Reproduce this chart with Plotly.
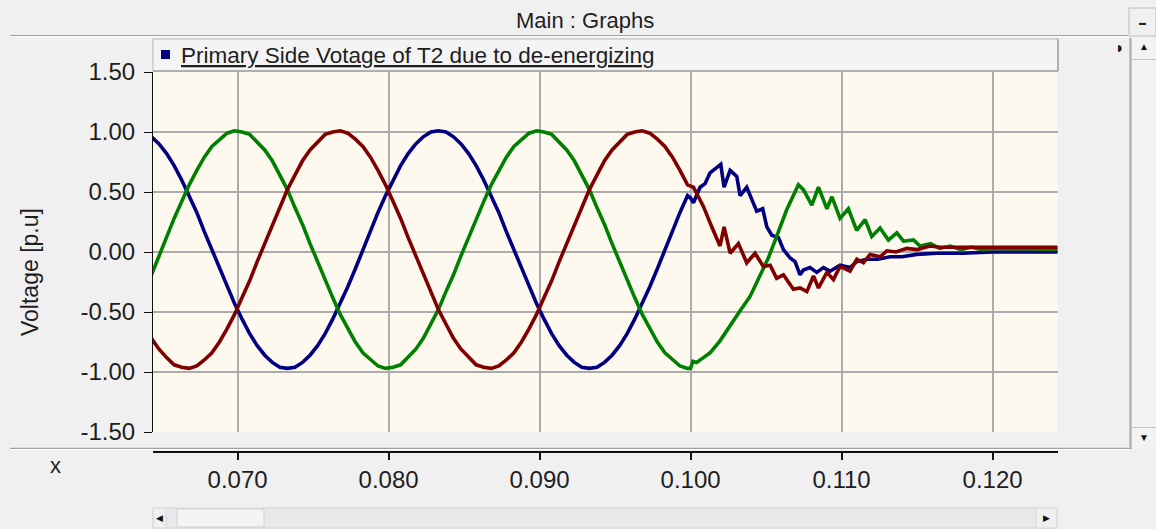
import plotly.graph_objects as go

# ---------------- data ----------------
t_steady = [
    0.0643, 0.0648, 0.0653, 0.0658, 0.0663, 0.0668, 0.0673, 0.0678, 0.0683, 0.0688,
    0.0693, 0.0698, 0.0703, 0.0708, 0.0713, 0.0718, 0.0723, 0.0728, 0.0733, 0.0738,
    0.0743, 0.0748, 0.0753, 0.0758, 0.0763, 0.0768, 0.0773, 0.0778, 0.0783, 0.0788,
    0.0793, 0.0798, 0.0803, 0.0808, 0.0813, 0.0818, 0.0823, 0.0828, 0.0833, 0.0838,
    0.0843, 0.0848, 0.0853, 0.0858, 0.0863, 0.0868, 0.0873, 0.0878, 0.0883, 0.0888,
    0.0893, 0.0898, 0.0903, 0.0908, 0.0913, 0.0918, 0.0923, 0.0928, 0.0933, 0.0938,
    0.0943, 0.0948, 0.0953, 0.0958, 0.0963, 0.0968, 0.0973, 0.0978, 0.0983, 0.0988,
    0.0993, 0.0998,
]

blue_steady = [
    0.96, 0.90, 0.82, 0.72, 0.60, 0.47, 0.33, 0.17, 0.02, -0.14,
    -0.29, -0.43, -0.56, -0.68, -0.78, -0.86, -0.92, -0.96, -0.97, -0.96,
    -0.92, -0.86, -0.78, -0.68, -0.56, -0.43, -0.29, -0.14, 0.02, 0.17,
    0.33, 0.47, 0.60, 0.72, 0.82, 0.90, 0.96, 1.00, 1.01, 1.00,
    0.96, 0.90, 0.82, 0.72, 0.60, 0.47, 0.33, 0.17, 0.02, -0.14,
    -0.29, -0.43, -0.56, -0.68, -0.78, -0.86, -0.92, -0.96, -0.97, -0.96,
    -0.92, -0.86, -0.78, -0.68, -0.56, -0.43, -0.29, -0.14, 0.02, 0.17,
    0.33, 0.47,
]
green_steady = [
    -0.19, -0.03, 0.12, 0.28, 0.42, 0.56, 0.68, 0.79, 0.88, 0.94,
    0.99, 1.01, 1.00, 0.98, 0.92, 0.85, 0.76, 0.64, 0.52, 0.37,
    0.23, 0.07, -0.08, -0.24, -0.38, -0.52, -0.64, -0.75, -0.84, -0.90,
    -0.95, -0.97, -0.96, -0.94, -0.88, -0.81, -0.72, -0.60, -0.48, -0.33,
    -0.19, -0.03, 0.12, 0.28, 0.42, 0.56, 0.68, 0.79, 0.88, 0.94,
    0.99, 1.01, 1.00, 0.98, 0.92, 0.85, 0.76, 0.64, 0.52, 0.37,
    0.23, 0.07, -0.08, -0.24, -0.38, -0.52, -0.64, -0.75, -0.84, -0.90,
    -0.95, -0.97,
]
red_steady = [
    -0.72, -0.81, -0.88, -0.94, -0.96, -0.97, -0.95, -0.90, -0.84, -0.75,
    -0.64, -0.52, -0.38, -0.24, -0.08, 0.07, 0.23, 0.37, 0.52, 0.64,
    0.76, 0.85, 0.92, 0.98, 1.00, 1.01, 0.99, 0.94, 0.88, 0.79,
    0.68, 0.56, 0.42, 0.28, 0.12, -0.03, -0.19, -0.33, -0.48, -0.60,
    -0.72, -0.81, -0.88, -0.94, -0.96, -0.97, -0.95, -0.90, -0.84, -0.75,
    -0.64, -0.52, -0.38, -0.24, -0.08, 0.07, 0.23, 0.37, 0.52, 0.64,
    0.76, 0.85, 0.92, 0.98, 1.00, 1.01, 0.99, 0.94, 0.88, 0.79,
    0.68, 0.56,
]

# transient after de-energizing (t >= 0.100 s)
blue_t = [0.10000, 0.10019, 0.10063, 0.10096, 0.10129, 0.10200, 0.10222, 0.10262,
          0.10306, 0.10328, 0.10372, 0.10438, 0.10478, 0.10505, 0.10538, 0.10582,
          0.10615, 0.10659, 0.10692, 0.10725, 0.10747, 0.10791, 0.10836, 0.10880,
          0.10924, 0.10990, 0.11056, 0.11101, 0.11167, 0.11240, 0.11321, 0.11400,
          0.11498, 0.11630, 0.11800, 0.12000, 0.12460]
blue_v = [0.45, 0.41, 0.54, 0.57, 0.66, 0.73, 0.54, 0.68,
          0.63, 0.47, 0.54, 0.34, 0.36, 0.21, 0.14, 0.12,
          0.02, -0.05, -0.08, -0.19, -0.15, -0.13, -0.17, -0.13,
          -0.16, -0.11, -0.13, -0.08, -0.06, -0.06, -0.04, -0.04,
          -0.02, -0.01, -0.01, 0.00, 0.00]

red_t = [0.10019, 0.10085, 0.10140, 0.10195, 0.10222, 0.10262, 0.10317, 0.10372,
         0.10427, 0.10482, 0.10527, 0.10570, 0.10615, 0.10681, 0.10725, 0.10770,
         0.10814, 0.10847, 0.10903, 0.10946, 0.10990, 0.11056, 0.11101, 0.11145,
         0.11189, 0.11255, 0.11300, 0.11360, 0.11432, 0.11500, 0.11586, 0.11650,
         0.11800, 0.12000, 0.12460]
red_v = [0.54, 0.38, 0.21, 0.05, 0.21, -0.01, 0.07, -0.09,
         -0.01, -0.12, -0.11, -0.22, -0.19, -0.31, -0.30, -0.33,
         -0.20, -0.30, -0.17, -0.23, -0.12, -0.16, -0.06, -0.09,
         -0.02, -0.04, 0.01, 0.00, 0.03, 0.02, 0.05, 0.04,
         0.04, 0.04, 0.04]

green_t = [0.10000, 0.10015, 0.10040, 0.10085, 0.10129, 0.10195, 0.10262, 0.10328,
           0.10394, 0.10460, 0.10515, 0.10570, 0.10636, 0.10714, 0.10747, 0.10803,
           0.10847, 0.10903, 0.10936, 0.10990, 0.11045, 0.11100, 0.11156, 0.11200,
           0.11255, 0.11310, 0.11366, 0.11410, 0.11476, 0.11520, 0.11590, 0.11650,
           0.11720, 0.11790, 0.11860, 0.11930, 0.12000, 0.12460]
green_v = [-0.97, -0.91, -0.92, -0.88, -0.84, -0.74, -0.62, -0.49,
           -0.37, -0.20, -0.05, 0.13, 0.35, 0.56, 0.52, 0.39,
           0.54, 0.36, 0.46, 0.28, 0.36, 0.18, 0.27, 0.13,
           0.20, 0.10, 0.16, 0.09, 0.10, 0.05, 0.07, 0.03,
           0.05, 0.02, 0.04, 0.02, 0.03, 0.02]

x_ticks = [0.07, 0.08, 0.09, 0.10, 0.11, 0.12]
x_tick_labels = ["0.070", "0.080", "0.090", "0.100", "0.110", "0.120"]
y_ticks = [-1.5, -1.0, -0.5, 0.0, 0.5, 1.0, 1.5]
y_tick_labels = ["-1.50", "-1.00", "-0.50", "0.00", "0.50", "1.00", "1.50"]
x_range = [0.0644, 0.1243]
y_range = [-1.5, 1.5]

legend_text = "Primary Side Votage of T2 due to de-energizing"
window_title = "Main : Graphs"
y_title = "Voltage [p.u]"
x_title = "x"

# ---------------- figure ----------------
W, H = 1156, 529
FONT = "Liberation Sans, Arial, sans-serif"
TXT = "#1e1e1e"


def fx(px):
    return px / W


def fy(py):
    return 1 - py / H


series = [
    (t_steady + blue_t, blue_steady + blue_v, "#000080"),
    (t_steady + green_t, green_steady + green_v, "#008000"),
    (t_steady + red_t, red_steady + red_v, "#800000"),
]

fig = go.Figure()
for xs, ys, col in series:
    fig.add_trace(go.Scatter(x=xs, y=ys, mode="lines",
                             line=dict(color=col, width=3.6),
                             showlegend=False, hoverinfo="skip"))
# empty trace so the detached x axis is drawn
fig.add_trace(go.Scatter(x=[], y=[], xaxis="x2", yaxis="y",
                         showlegend=False, hoverinfo="skip"))

GRID = "#ABABAB"

fig.update_layout(
    template="none",
    width=W, height=H, autosize=False,
    margin=dict(l=0, r=0, t=0, b=0, pad=0, autoexpand=False),
    paper_bgcolor="#F0F0F0",
    plot_bgcolor="#FDF9EE",
    showlegend=False,
    xaxis=dict(domain=[fx(153), fx(1057.5)], range=x_range, automargin=False,
               tickvals=x_ticks, showticklabels=False, ticks="",
               showgrid=True, gridcolor=GRID, gridwidth=1.6,
               zeroline=False, showline=False, fixedrange=True),
    xaxis2=dict(overlaying="x", anchor="free", position=fy(451.5),
                side="bottom", range=x_range, automargin=False,
                tickvals=x_ticks, ticktext=x_tick_labels,
                ticks="outside", ticklen=7, tickwidth=1.5, tickcolor="#111",
                showline=True, linecolor="#111", linewidth=2,
                showgrid=False, zeroline=False,
                tickfont=dict(family=FONT, size=24, color=TXT)),
    yaxis=dict(domain=[fy(432), fy(72)], range=y_range, automargin=False,
               tickvals=y_ticks, ticktext=y_tick_labels,
               ticks="outside", ticklen=8, tickwidth=1.2, tickcolor="#111",
               showline=True, linecolor="#111", linewidth=1.2,
               showgrid=True, gridcolor=GRID, gridwidth=1.6,
               zeroline=False, ticklabelstandoff=4,
               tickfont=dict(family=FONT, size=24, color=TXT)),
)

shapes = []


def rect(x0, y0, x1, y1, fill, line="rgba(0,0,0,0)", lw=1):
    shapes.append(dict(type="rect", xref="paper", yref="paper",
                       x0=fx(x0), x1=fx(x1), y0=fy(y1), y1=fy(y0),
                       fillcolor=fill, line=dict(color=line, width=lw),
                       layer="above"))


def hline(x0, x1, y, col, lw=1):
    shapes.append(dict(type="line", xref="paper", yref="paper",
                       x0=fx(x0), x1=fx(x1), y0=fy(y), y1=fy(y),
                       line=dict(color=col, width=lw), layer="above"))


def vline(x, y0, y1, col, lw=1):
    shapes.append(dict(type="line", xref="paper", yref="paper",
                       x0=fx(x), x1=fx(x), y0=fy(y0), y1=fy(y1),
                       line=dict(color=col, width=lw), layer="above"))


# title bar separator
hline(10, 1128, 35.5, "#A0A0A0", 1)
hline(10, 1128, 36.5, "#FFFFFF", 1)
# minimise button
rect(1129, 8, 1156, 36, "#F0F0F0", "#BDBDBD", 1)
# right scrollbar
rect(1131, 38, 1157, 449, "#F3F3F3")
vline(1130.5, 38, 449, "#A8A8A8", 2)
hline(1131, 1156, 59.5, "#C8C8C8", 1)
hline(1131, 1156, 427.5, "#C8C8C8", 1)
# lower separator
hline(10, 1130, 448.5, "#A0A0A0", 1.5)
hline(10, 1130, 449.5, "#FFFFFF", 1)
# legend box
rect(153, 39, 1058, 71, "#F4F4F4", "#B4B4B4", 1)
hline(153, 1058, 71, "#8C8C8C", 1)
vline(1058, 39, 71, "#8C8C8C", 1)
rect(161, 50, 170, 59, "#000080")
# bottom scrollbar
rect(153, 508, 1057, 528, "#E9E9E9", "#D6D6D6", 1)
rect(153, 508, 166, 528, "#F0F0F0", "#D6D6D6", 1)
rect(177, 509, 264, 527, "#F4F4F4", "#D0D0D0", 1)
rect(1036, 508, 1057, 528, "#F0F0F0", "#D6D6D6", 1)

fig.update_layout(shapes=shapes)

ann = []


def text(x, y, s, size, xanchor="center", angle=0, color=TXT):
    ann.append(dict(x=fx(x), y=fy(y), xref="paper", yref="paper", text=s,
                    showarrow=False, xanchor=xanchor, yanchor="middle",
                    textangle=angle,
                    font=dict(family=FONT, size=size, color=color)))


text(585, 20, window_title, 22)
text(179, 55, "<u>" + legend_text + "</u>", 22.5, xanchor="left")
text(55, 465, x_title, 22)
text(30, 272, y_title, 23, angle=-90)
text(1142, 23, "▬", 7, color="#222")
text(1144, 47, "▲", 10, color="#111")
text(1144, 437, "▼", 10, color="#111")
text(1120, 48, "◗", 16, color="#111")
text(159.5, 518, "◀", 9, color="#111")
text(1046, 518, "▶", 9, color="#111")

fig.update_layout(annotations=ann)

fig.write_html("out.html",
               config={"displayModeBar": False},
               post_script="document.body.style.margin='0';"
                           "document.body.style.overflow='hidden';")
